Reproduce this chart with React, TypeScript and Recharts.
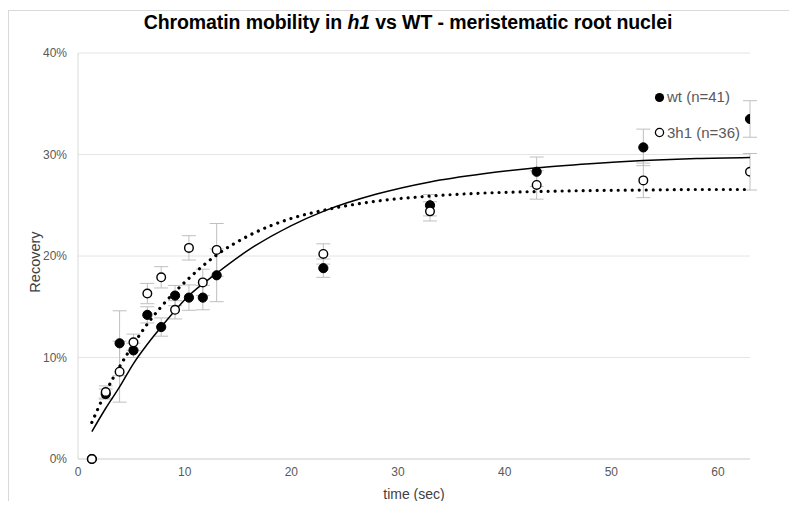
import {
  CartesianGrid,
  ComposedChart,
  ErrorBar,
  Line,
  Scatter,
  XAxis,
  YAxis,
} from 'recharts';

// measured time points (sec)
const times = [1.3, 2.6, 3.9, 5.2, 6.5, 7.8, 9.1, 10.4, 11.7, 13, 23, 33, 43, 53, 63];
// recovery (%) and standard error, wild type
const wtValues = [0, 6.4, 11.4, 10.7, 14.2, 13.0, 16.1, 15.9, 15.9, 18.1, 18.8, 25.0, 28.3, 30.7, 33.5];
const wtErrors = [0, 0.5, 3.2, 0.7, 0.8, 0.9, 1.0, 1.25, 1.2, 2.6, 0.9, 1.05, 1.45, 1.8, 1.8];
// recovery (%) and standard error, 3h1
const h1Values = [0, 6.6, 8.6, 11.5, 16.3, 17.9, 14.7, 20.8, 17.4, 20.6, 20.2, 24.4, 27.0, 27.45, 28.3];
const h1Errors = [0, 0.6, 3.0, 0.8, 1.0, 1.05, 0.9, 1.2, 1.3, 2.6, 1.0, 0.95, 1.4, 1.7, 1.8];

// trendlines
const fitTimes = [1.3, 2.6, 3.9, 5.2, 6.5, 7.8, 10.4, 13, 16, 20, 23, 28, 33, 38, 43, 48, 53, 58, 63];
const wtFit = [2.7, 5.0, 7.1, 9.4, 11.3, 13.0, 16.1, 18.3, 20.6, 23.0, 24.4, 26.1, 27.3, 28.1, 28.7, 29.1, 29.4, 29.6, 29.7];
const h1Fit = [3.6, 6.6, 9.1, 11.3, 13.3, 15.0, 17.8, 20.1, 22.0, 23.7, 24.5, 25.4, 25.9, 26.2, 26.35, 26.45, 26.5, 26.55, 26.55];

const xTicks = [0, 10, 20, 30, 40, 50, 60];
const yTicks = [0, 10, 20, 30, 40];

const wtPoints = times.map((t, i) => ({ t, v: wtValues[i], err: wtErrors[i] }));
const h1Points = times.map((t, i) => ({ t, v: h1Values[i], err: h1Errors[i] }));
const wtFitData = fitTimes.map((t, i) => ({ t, fit: wtFit[i] }));
const h1FitData = fitTimes.map((t, i) => ({ t, fit: h1Fit[i] }));

const FONT = '"Liberation Sans", Arial, sans-serif';
const tickStyle = { fill: '#595959', fontSize: 12, fontFamily: FONT };

const FilledDot = (props: any) => (
  <circle cx={props.cx} cy={props.cy} r={4.6} fill="#000" stroke="#000" strokeWidth={1} />
);
const OpenDot = (props: any) => (
  <circle cx={props.cx} cy={props.cy} r={4.3} fill="#fff" stroke="#000" strokeWidth={1.4} />
);

export default function App() {
  return (
    <div style={{ position: 'relative', width: 781, height: 493, overflow: 'hidden', fontFamily: FONT }}>
      <div
        style={{
          position: 'absolute',
          top: 2,
          left: 0,
          right: -2,
          bottom: -2,
          borderLeft: '1px solid #d9d9d9',
          borderTop: '1px solid #d9d9d9',
        }}
      />
      <div
        style={{
          position: 'absolute',
          top: 3,
          left: 0,
          width: 800,
          textAlign: 'center',
          fontSize: 19.5,
          lineHeight: '22px',
          fontWeight: 'bold',
          letterSpacing: -0.1,
          color: '#000',
        }}
      >
        Chromatin mobility in <i>h1</i> vs WT - meristematic root nuclei
      </div>
      <ComposedChart
        width={781}
        height={493}
        margin={{ top: 45, right: 39, bottom: 0, left: 0 }}
        style={{ position: 'absolute', top: 0, left: 0 }}
      >
        <CartesianGrid horizontal vertical={false} stroke="#e4e4e4" strokeWidth={1} />
        <XAxis
          type="number"
          dataKey="t"
          domain={[0, 63]}
          ticks={xTicks}
          allowDataOverflow
          height={42}
          tickLine={false}
          axisLine={{ stroke: '#d9d9d9' }}
          tick={tickStyle}
          label={({ viewBox }: any) => (
            <text
              x={viewBox.x + viewBox.width / 2}
              y={viewBox.y + 40}
              textAnchor="middle"
              fontSize={14}
              fill="#404040"
              fontFamily={FONT}
            >
              time (sec)
            </text>
          )}
        />
        <YAxis
          type="number"
          domain={[0, 40]}
          ticks={yTicks}
          width={70}
          tickLine={false}
          tickMargin={5}
          axisLine={{ stroke: '#d9d9d9' }}
          tick={tickStyle}
          tickFormatter={(v: number) => `${v}%`}
          label={({ viewBox }: any) => {
            const x = 32;
            const y = viewBox.y + viewBox.height / 2 + 6;
            return (
              <text
                x={x}
                y={y}
                transform={`rotate(-90, ${x}, ${y})`}
                textAnchor="middle"
                fontSize={14.5}
                fill="#404040"
                fontFamily={FONT}
              >
                Recovery
              </text>
            );
          }}
        />
        <Scatter data={wtPoints} dataKey="v" shape={FilledDot} isAnimationActive={false}>
          <ErrorBar dataKey="err" direction="y" width={7} stroke="#bfbfbf" strokeWidth={1} />
        </Scatter>
        <Scatter data={h1Points} dataKey="v" shape={OpenDot} isAnimationActive={false}>
          <ErrorBar dataKey="err" direction="y" width={7} stroke="#bfbfbf" strokeWidth={1} />
        </Scatter>
        <Line
          data={wtFitData}
          dataKey="fit"
          type="monotone"
          stroke="#000"
          strokeWidth={1.5}
          dot={false}
          activeDot={false}
          isAnimationActive={false}
        />
        <Line
          data={h1FitData}
          dataKey="fit"
          type="monotone"
          stroke="#000"
          strokeWidth={3.2}
          strokeDasharray="0.01 7"
          strokeLinecap="round"
          dot={false}
          activeDot={false}
          isAnimationActive={false}
        />
      </ComposedChart>
      <div style={{ position: 'absolute', top: 79, left: 646, fontSize: 15, color: '#595959', lineHeight: '20px' }}>
        <div style={{ display: 'flex', alignItems: 'center', height: 20 }}>
          <svg width={11} height={11} style={{ marginRight: 2 }}>
            <circle cx={5.5} cy={5.5} r={4.6} fill="#000" />
          </svg>
          wt (n=41)
        </div>
        <div style={{ display: 'flex', alignItems: 'center', height: 20, marginTop: 15.6 }}>
          <svg width={11} height={11} style={{ marginRight: 2 }}>
            <circle cx={5.5} cy={5.5} r={4.1} fill="#fff" stroke="#000" strokeWidth={1.3} />
          </svg>
          3h1 (n=36)
        </div>
      </div>
    </div>
  );
}
